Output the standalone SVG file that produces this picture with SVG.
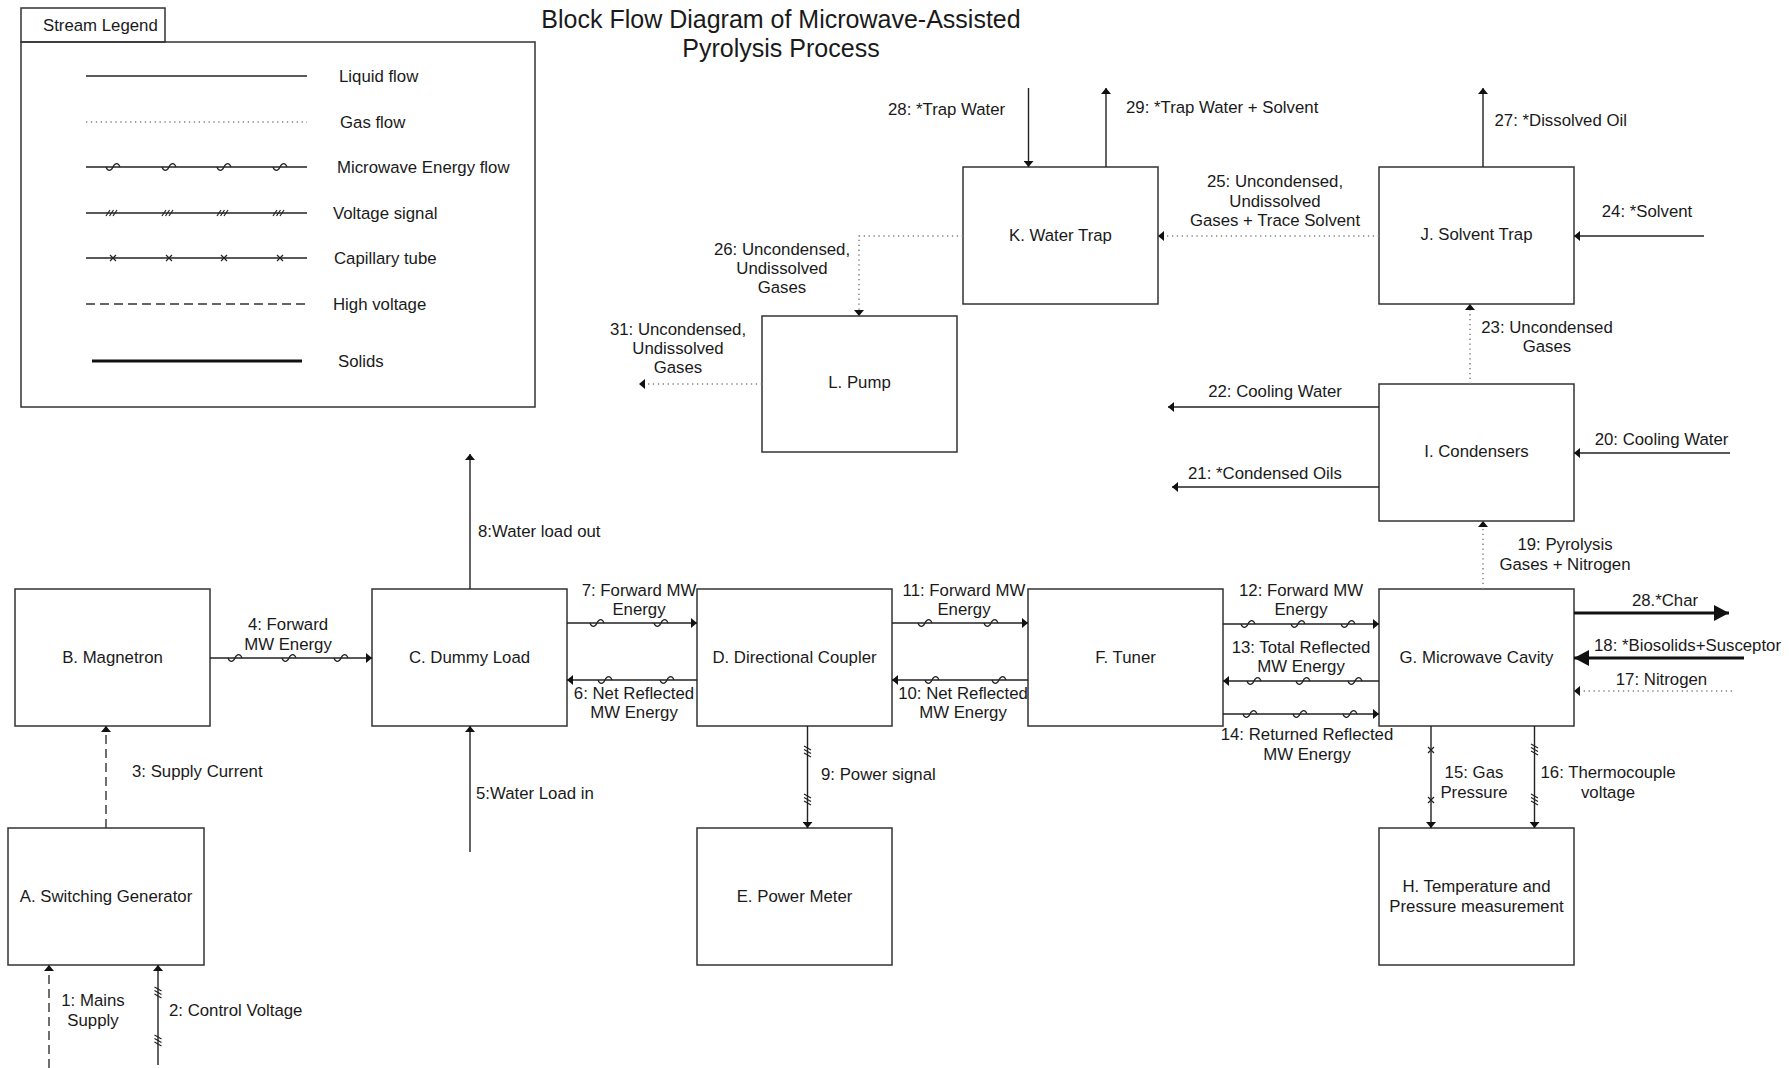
<svg xmlns="http://www.w3.org/2000/svg" xmlns:xlink="http://www.w3.org/1999/xlink" width="1789" height="1068" viewBox="0 0 1789 1068">
  <style>
    text { font-family: "Liberation Sans", Arial, sans-serif; font-size: 16.8px; fill: #1a1a1a; }
    .title { font-size: 25px; }
    .mid { text-anchor: middle; }
    .box { fill: #fff; stroke: #333; stroke-width: 1.5; }
    .frame { fill: none; stroke: #333; stroke-width: 1.5; }
    .liq { fill: none; stroke: #222; stroke-width: 1.4; }
    .gas { fill: none; stroke: #808080; stroke-width: 1.5; stroke-dasharray: 1.3 3.6; }
    .hv { fill: none; stroke: #333; stroke-width: 1.4; stroke-dasharray: 9 5; }
    .sol { fill: none; stroke: #111; stroke-width: 3.2; }
    .mark { fill: none; stroke: #222; stroke-width: 1.2; }
  </style>
  <defs>
    <marker id="ah" viewBox="0 0 6 10" markerWidth="6" markerHeight="10" refX="6" refY="5" orient="auto" markerUnits="userSpaceOnUse">
      <path d="M0,0 L6,5 L0,10 z" fill="#111"/>
    </marker>
    <marker id="ahBig" viewBox="0 0 15 16" markerWidth="15" markerHeight="16" refX="15" refY="8" orient="auto" markerUnits="userSpaceOnUse">
      <path d="M0,0 L15,8 L0,16 z" fill="#111"/>
    </marker>
    <!-- microwave energy tick -->
    <path id="wave" class="mark" d="M-7,0 C-5.5,4.5 -2,4.5 0,0 C2,-4.5 5.5,-4.5 7,0"/>
    <!-- voltage signal hatch, horizontal run -->
    <path id="hatchH" class="mark" d="M-7,3 L-3,-3 M-3.5,3 L0.5,-3 M0,3 L4,-3"/>
    <!-- voltage signal hatch, vertical run -->
    <path id="hatchV" class="mark" d="M-3.5,-6 L3.5,-2 M-3.5,-2.5 L3.5,1.5 M-3.5,1 L3.5,5"/>
    <!-- capillary tube cross -->
    <path id="cross" class="mark" d="M-3,-3 L3,3 M-3,3 L3,-3"/>
  </defs>

  <!-- heading -->
  <text class="title mid" x="781" y="28">Block Flow Diagram of Microwave-Assisted</text>
  <text class="title mid" x="781" y="57">Pyrolysis Process</text>

  <!-- stream legend -->
  <g id="legend">
    <rect class="frame" x="21" y="8" width="144" height="34"/>
    <text x="43" y="31">Stream Legend</text>
    <rect class="frame" x="21" y="42" width="514" height="365"/>
    <line class="liq" x1="86" y1="76" x2="307" y2="76"/>
    <text x="339" y="82">Liquid flow</text>
    <line class="gas" x1="86" y1="122" x2="307" y2="122"/>
    <text x="340" y="128">Gas flow</text>
    <line class="liq" x1="86" y1="167" x2="307" y2="167"/>
    <use xlink:href="#wave" x="113" y="167"/><use xlink:href="#wave" x="169" y="167"/><use xlink:href="#wave" x="224" y="167"/><use xlink:href="#wave" x="280" y="167"/>
    <text x="337" y="173">Microwave Energy flow</text>
    <line class="liq" x1="86" y1="213" x2="307" y2="213"/>
    <use xlink:href="#hatchH" x="113" y="213"/><use xlink:href="#hatchH" x="169" y="213"/><use xlink:href="#hatchH" x="224" y="213"/><use xlink:href="#hatchH" x="280" y="213"/>
    <text x="333" y="219">Voltage signal</text>
    <line class="liq" x1="86" y1="258" x2="307" y2="258"/>
    <use xlink:href="#cross" x="113" y="258"/><use xlink:href="#cross" x="169" y="258"/><use xlink:href="#cross" x="224" y="258"/><use xlink:href="#cross" x="280" y="258"/>
    <text x="334" y="264">Capillary tube</text>
    <line class="hv" x1="86" y1="304" x2="307" y2="304"/>
    <text x="333" y="310">High voltage</text>
    <line class="sol" x1="92" y1="361" x2="302" y2="361"/>
    <text x="338" y="367">Solids</text>
  </g>

  <!-- unit operations -->
  <g id="A"><rect class="box" x="8" y="828" width="196" height="137"/><text class="mid" x="106" y="902">A. Switching Generator</text></g>
  <g id="B"><rect class="box" x="15" y="589" width="195" height="137"/><text class="mid" x="112.5" y="663">B. Magnetron</text></g>
  <g id="C"><rect class="box" x="372" y="589" width="195" height="137"/><text class="mid" x="469.5" y="663">C. Dummy Load</text></g>
  <g id="D"><rect class="box" x="697" y="589" width="195" height="137"/><text class="mid" x="794.5" y="663">D. Directional Coupler</text></g>
  <g id="E"><rect class="box" x="697" y="828" width="195" height="137"/><text class="mid" x="794.5" y="902">E. Power Meter</text></g>
  <g id="F"><rect class="box" x="1028" y="589" width="195" height="137"/><text class="mid" x="1125.5" y="663">F. Tuner</text></g>
  <g id="G"><rect class="box" x="1379" y="589" width="195" height="137"/><text class="mid" x="1476.5" y="663">G. Microwave Cavity</text></g>
  <g id="H"><rect class="box" x="1379" y="828" width="195" height="137"/><text class="mid" x="1476.5" y="892">H. Temperature and</text><text class="mid" x="1476.5" y="912">Pressure measurement</text></g>
  <g id="I"><rect class="box" x="1379" y="384" width="195" height="137"/><text class="mid" x="1476.5" y="457">I. Condensers</text></g>
  <g id="J"><rect class="box" x="1379" y="167" width="195" height="137"/><text class="mid" x="1476.5" y="240">J. Solvent Trap</text></g>
  <g id="K"><rect class="box" x="963" y="167" width="195" height="137"/><text class="mid" x="1060.5" y="241">K. Water Trap</text></g>
  <g id="L"><rect class="box" x="762" y="316" width="195" height="136"/><text class="mid" x="859.5" y="388">L. Pump</text></g>

  <!-- streams -->
  <g id="connectors">
    <!-- 1, 2, 3: power supply side -->
    <line class="hv" x1="49" y1="1068" x2="49" y2="965" marker-end="url(#ah)"/>
    <line class="liq" x1="158" y1="1065" x2="158" y2="965" marker-end="url(#ah)"/>
    <use xlink:href="#hatchV" x="158" y="993"/><use xlink:href="#hatchV" x="158" y="1041"/>
    <line class="hv" x1="106" y1="828" x2="106" y2="726" marker-end="url(#ah)"/>

    <!-- 4: magnetron to dummy load -->
    <line class="liq" x1="210" y1="658" x2="372" y2="658" marker-end="url(#ah)"/>
    <use xlink:href="#wave" x="235" y="658"/><use xlink:href="#wave" x="289" y="658"/><use xlink:href="#wave" x="341" y="658"/>

    <!-- 5, 8: dummy load water -->
    <line class="liq" x1="470" y1="852" x2="470" y2="726" marker-end="url(#ah)"/>
    <line class="liq" x1="470" y1="589" x2="470" y2="454" marker-end="url(#ah)"/>

    <!-- 6, 7 -->
    <line class="liq" x1="567" y1="623" x2="697" y2="623" marker-end="url(#ah)"/>
    <use xlink:href="#wave" x="597" y="623"/><use xlink:href="#wave" x="661" y="623"/>
    <line class="liq" x1="697" y1="680" x2="567" y2="680" marker-end="url(#ah)"/>
    <use xlink:href="#wave" x="605" y="680"/><use xlink:href="#wave" x="667" y="680"/>

    <!-- 9: power signal -->
    <line class="liq" x1="807.5" y1="726" x2="807.5" y2="828" marker-end="url(#ah)"/>
    <use xlink:href="#hatchV" x="807.5" y="752"/><use xlink:href="#hatchV" x="807.5" y="800"/>

    <!-- 10, 11 -->
    <line class="liq" x1="892" y1="623" x2="1028" y2="623" marker-end="url(#ah)"/>
    <use xlink:href="#wave" x="925" y="623"/><use xlink:href="#wave" x="991" y="623"/>
    <line class="liq" x1="1028" y1="680" x2="892" y2="680" marker-end="url(#ah)"/>
    <use xlink:href="#wave" x="932" y="680"/><use xlink:href="#wave" x="999" y="680"/>

    <!-- 12, 13, 14 -->
    <line class="liq" x1="1223" y1="624" x2="1379" y2="624" marker-end="url(#ah)"/>
    <use xlink:href="#wave" x="1248" y="624"/><use xlink:href="#wave" x="1298" y="624"/><use xlink:href="#wave" x="1348" y="624"/>
    <line class="liq" x1="1379" y1="681" x2="1223" y2="681" marker-end="url(#ah)"/>
    <use xlink:href="#wave" x="1254" y="681"/><use xlink:href="#wave" x="1303" y="681"/><use xlink:href="#wave" x="1355" y="681"/>
    <line class="liq" x1="1223" y1="714" x2="1379" y2="714" marker-end="url(#ah)"/>
    <use xlink:href="#wave" x="1250" y="714"/><use xlink:href="#wave" x="1300" y="714"/><use xlink:href="#wave" x="1350" y="714"/>

    <!-- 15, 16: measurement lines -->
    <line class="liq" x1="1431" y1="726" x2="1431" y2="828" marker-end="url(#ah)"/>
    <use xlink:href="#cross" x="1431" y="750"/><use xlink:href="#cross" x="1431" y="800"/>
    <line class="liq" x1="1534.5" y1="726" x2="1534.5" y2="828" marker-end="url(#ah)"/>
    <use xlink:href="#hatchV" x="1534.5" y="750"/><use xlink:href="#hatchV" x="1534.5" y="800"/>

    <!-- 17, 18, char -->
    <line class="gas" x1="1732" y1="691" x2="1576" y2="691"/>
    <path d="M1574,691 l6,-5 v10 z" fill="#111"/>
    <line class="sol" x1="1744" y1="658" x2="1574" y2="658" marker-end="url(#ahBig)"/>
    <line class="sol" x1="1574" y1="613" x2="1729" y2="613" marker-end="url(#ahBig)"/>

    <!-- 19: cavity to condensers -->
    <line class="gas" x1="1483" y1="589" x2="1483" y2="523"/>
    <path d="M1483,521 l-5,6 h10 z" fill="#111"/>

    <!-- 20, 21, 22 -->
    <line class="liq" x1="1730" y1="453" x2="1574" y2="453" marker-end="url(#ah)"/>
    <line class="liq" x1="1379" y1="487" x2="1172" y2="487" marker-end="url(#ah)"/>
    <line class="liq" x1="1379" y1="407" x2="1168" y2="407" marker-end="url(#ah)"/>

    <!-- 23: condensers to solvent trap -->
    <line class="gas" x1="1470" y1="384" x2="1470" y2="306"/>
    <path d="M1470,304 l-5,6 h10 z" fill="#111"/>

    <!-- 24, 25, 27 -->
    <line class="liq" x1="1704" y1="236" x2="1574" y2="236" marker-end="url(#ah)"/>
    <line class="gas" x1="1379" y1="236" x2="1160" y2="236"/>
    <path d="M1158,236 l6,-5 v10 z" fill="#111"/>
    <line class="liq" x1="1483" y1="167" x2="1483" y2="88" marker-end="url(#ah)"/>

    <!-- 26: water trap to pump -->
    <polyline class="gas" points="963,236 859,236 859,314"/>
    <path d="M859,316 l-5,-6 h10 z" fill="#111"/>

    <!-- 28, 29: trap water -->
    <line class="liq" x1="1028.5" y1="88" x2="1028.5" y2="167" marker-end="url(#ah)"/>
    <line class="liq" x1="1106" y1="167" x2="1106" y2="88" marker-end="url(#ah)"/>

    <!-- 31: pump exhaust -->
    <line class="gas" x1="762" y1="384" x2="641" y2="384"/>
    <path d="M639,384 l6,-5 v10 z" fill="#111"/>
  </g>

  <!-- stream labels -->
  <g id="stream-labels">
    <text class="mid" x="93" y="1006">1: Mains</text><text class="mid" x="93" y="1026">Supply</text>
    <text x="169" y="1016">2: Control Voltage</text>
    <text x="132" y="777">3: Supply Current</text>
    <text class="mid" x="288" y="630">4: Forward</text><text class="mid" x="288" y="650">MW Energy</text>
    <text x="476" y="799">5:Water Load in</text>
    <text class="mid" x="634" y="699">6: Net Reflected</text><text class="mid" x="634" y="718">MW Energy</text>
    <text class="mid" x="639" y="596">7: Forward MW</text><text class="mid" x="639" y="615">Energy</text>
    <text x="478" y="537">8:Water load out</text>
    <text x="821" y="780">9: Power signal</text>
    <text class="mid" x="963" y="699">10: Net Reflected</text><text class="mid" x="963" y="718">MW Energy</text>
    <text class="mid" x="964" y="596">11: Forward MW</text><text class="mid" x="964" y="615">Energy</text>
    <text class="mid" x="1301" y="596">12: Forward MW</text><text class="mid" x="1301" y="615">Energy</text>
    <text class="mid" x="1301" y="653">13: Total Reflected</text><text class="mid" x="1301" y="672">MW Energy</text>
    <text class="mid" x="1307" y="740">14: Returned Reflected</text><text class="mid" x="1307" y="760">MW Energy</text>
    <text class="mid" x="1474" y="778">15: Gas</text><text class="mid" x="1474" y="798">Pressure</text>
    <text class="mid" x="1608" y="778">16: Thermocouple</text><text class="mid" x="1608" y="798">voltage</text>
    <text class="mid" x="1661.5" y="685">17: Nitrogen</text>
    <text x="1594" y="651">18: *Biosolids+Susceptor</text>
    <text class="mid" x="1565" y="550">19: Pyrolysis</text><text class="mid" x="1565" y="570">Gases + Nitrogen</text>
    <text class="mid" x="1661.5" y="445">20: Cooling Water</text>
    <text class="mid" x="1265" y="479">21: *Condensed Oils</text>
    <text class="mid" x="1275" y="397">22: Cooling Water</text>
    <text class="mid" x="1547" y="333">23: Uncondensed</text><text class="mid" x="1547" y="352">Gases</text>
    <text class="mid" x="1647" y="217">24: *Solvent</text>
    <text class="mid" x="1275" y="187">25: Uncondensed,</text><text class="mid" x="1275" y="207">Undissolved</text><text class="mid" x="1275" y="226">Gases + Trace Solvent</text>
    <text class="mid" x="782" y="255">26: Uncondensed,</text><text class="mid" x="782" y="274">Undissolved</text><text class="mid" x="782" y="293">Gases</text>
    <text x="1494.5" y="126">27: *Dissolved Oil</text>
    <text x="888" y="115">28: *Trap Water</text>
    <text x="1126" y="113">29: *Trap Water + Solvent</text>
    <text class="mid" x="1665" y="606">28.*Char</text>
    <text class="mid" x="678" y="335">31: Uncondensed,</text><text class="mid" x="678" y="354">Undissolved</text><text class="mid" x="678" y="373">Gases</text>
  </g>
</svg>
